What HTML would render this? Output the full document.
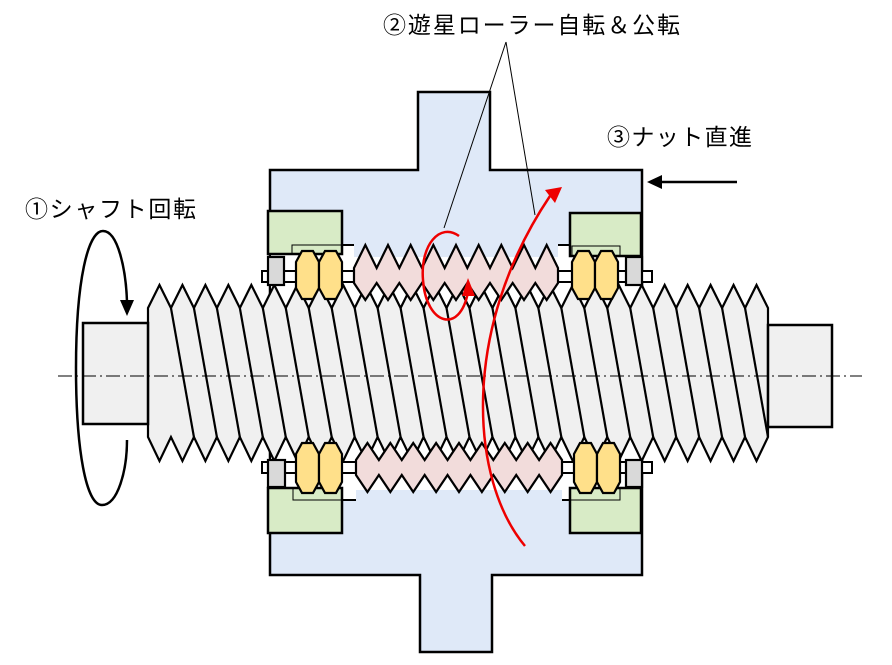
<!DOCTYPE html>
<html><head><meta charset="utf-8"><style>
html,body{margin:0;padding:0;background:#fff}
svg{display:block}
text{font-family:"Liberation Sans","Noto Sans CJK JP",sans-serif;font-size:23px;fill:#000}
</style></head><body>
<svg id="s" width="892" height="665" viewBox="0 0 892 665" xmlns="http://www.w3.org/2000/svg">
<path d="M270,170 H418 V92 H490 V170 H642 V575 H492 V652 H420 V575 H270 Z" fill="#dfe9f8" stroke="#000" stroke-width="2.5"/>
<rect x="271" y="257" width="370" height="233" fill="#fff"/>
<rect x="271" y="245" width="83" height="12" fill="#fff"/>
<rect x="558" y="245" width="83" height="12" fill="#fff"/>
<rect x="271" y="489" width="85" height="11" fill="#fff"/>
<rect x="562" y="489" width="79" height="11" fill="#fff"/>
<line x1="342" y1="245" x2="354" y2="245" stroke="#000" stroke-width="2"/>
<line x1="558" y1="245" x2="570" y2="245" stroke="#000" stroke-width="2"/>
<line x1="342" y1="500" x2="356" y2="500" stroke="#000" stroke-width="2"/>
<line x1="562" y1="500" x2="570" y2="500" stroke="#000" stroke-width="2"/>
<g id="screw"></g>
<rect x="83" y="323" width="65" height="101" fill="#f0f0f0" stroke="#000" stroke-width="2.5"/>
<rect x="768" y="325" width="64" height="102" fill="#f0f0f0" stroke="#000" stroke-width="2.5"/>
<g id="parts"></g>
<line x1="58" y1="376" x2="862" y2="376" stroke="#000" stroke-width="1" stroke-dasharray="14,4,2,4"/>
<line x1="506" y1="42" x2="444" y2="228" stroke="#000" stroke-width="1"/>
<line x1="506" y1="42" x2="535" y2="215" stroke="#000" stroke-width="1"/>
<path d="M459,236 C440,222 420,245 423,280 C426,325 460,335 468,292" fill="none" stroke="#e00" stroke-width="2.5"/>
<path d="M462,296 L468,278 L475,296 Z" fill="#e00"/>
<path d="M525,546 C470,480 460,330 550,196" fill="none" stroke="#e00" stroke-width="2.5"/>
<path d="M545,190 L562,187 L555,203 Z" fill="#e00"/>
<path d="M127,440 C127,470 118,505 102,505 C86,505 76,450 76,368 C76,280 88,231 103,231 C118,231 126,270 127,302" fill="none" stroke="#000" stroke-width="2.5"/>
<path d="M120,300 L134,300 L127,316 Z" fill="#000"/>
<line x1="737" y1="182" x2="662" y2="182" stroke="#000" stroke-width="2.5"/>
<path d="M662,175 L647,182 L662,189 Z" fill="#000"/>
<text x="383" y="33" textLength="297">②遊星ローラー自転＆公転</text>
<text x="607" y="145" textLength="145">③ナット直進</text>
<text x="25" y="217" textLength="171">①シャフト回転</text>
</svg>
<script>
var NS="http://www.w3.org/2000/svg";
function el(p,t,a){var e=document.createElementNS(NS,t);for(var k in a)e.setAttribute(k,a[k]);p.appendChild(e);return e;}
var sc=document.getElementById('screw');
var x0=148,x1=768,n=27,p=(x1-x0)/n;
var d="M"+x0+",308";
for(var k=0;k<n;k++){d+=" L"+(x0+p*k+p/2)+",285 L"+(x0+p*(k+1))+",308";}
d+=" L"+x1+",437";
for(var k=n-1;k>=0;k--){d+=" L"+(x0+p*k+p/2)+",461 L"+(x0+p*k)+",437";}
d+="Z";
el(sc,'path',{d:d,fill:'#f0f0f0',stroke:'#000','stroke-width':2.2});
for(var k=1;k<n;k++){el(sc,'line',{x1:x0+p*k,y1:308,x2:x0+p*(k+1),y2:437,stroke:'#000','stroke-width':2.2});}
var g=document.getElementById('parts');
function roller(xa,xb,ta,tv,bv,ba){
 var q=(xb-xa)/9, s="M"+xa+","+tv;
 for(var i=0;i<9;i++){s+=" L"+(xa+q*i+q/2)+","+ta+" L"+(xa+q*(i+1))+","+tv;}
 s+=" L"+xb+","+bv;
 for(var i=8;i>=0;i--){s+=" L"+(xa+q*i+q/2)+","+ba+" L"+(xa+q*i)+","+bv;}
 s+="Z";
 el(g,'path',{d:s,fill:'#f2dcdb',stroke:'#000','stroke-width':2.2});
}
function yel(x,y,h){
 var w=23;
 for(var i=0;i<2;i++){var a=x+i*w;
  var s="M"+(a+6)+","+y+" L"+(a+w-6)+","+y+" L"+(a+w)+","+(y+11)+" L"+(a+w)+","+(y+h-11)+" L"+(a+w-6)+","+(y+h)+" L"+(a+6)+","+(y+h)+" L"+a+","+(y+h-11)+" L"+a+","+(y+11)+"Z";
  el(g,'path',{d:s,fill:'#ffe08a',stroke:'#000','stroke-width':2.2});}
}
el(g,'rect',{x:262,y:271,width:92,height:11,fill:'#fff',stroke:'#000','stroke-width':2});
el(g,'rect',{x:558,y:271,width:94,height:11,fill:'#fff',stroke:'#000','stroke-width':2});
el(g,'rect',{x:262,y:462,width:94,height:11,fill:'#fff',stroke:'#000','stroke-width':2});
el(g,'rect',{x:562,y:462,width:90,height:11,fill:'#fff',stroke:'#000','stroke-width':2});
roller(354,558,245,268,283,300);
roller(356,562,443,460,475,492);
el(g,'rect',{x:268,y:257,width:16,height:28,fill:'#d9d9d9',stroke:'#000','stroke-width':2.2});
el(g,'rect',{x:626,y:257,width:16,height:28,fill:'#d9d9d9',stroke:'#000','stroke-width':2.2});
el(g,'rect',{x:268,y:460,width:17,height:27,fill:'#d9d9d9',stroke:'#000','stroke-width':2.2});
el(g,'rect',{x:626,y:460,width:16,height:27,fill:'#d9d9d9',stroke:'#000','stroke-width':2.2});
el(g,'rect',{x:268,y:211,width:74,height:43,fill:'#d8ebc6',stroke:'#000','stroke-width':2.5});
el(g,'rect',{x:292,y:245,width:50,height:9,fill:'none',stroke:'#000','stroke-width':1});
el(g,'rect',{x:570,y:213,width:71,height:43,fill:'#d8ebc6',stroke:'#000','stroke-width':2.5});
el(g,'rect',{x:572,y:246,width:48,height:10,fill:'none',stroke:'#000','stroke-width':1});
el(g,'rect',{x:268,y:488,width:74,height:45,fill:'#d8ebc6',stroke:'#000','stroke-width':2.5});
el(g,'rect',{x:293,y:488,width:49,height:12,fill:'none',stroke:'#000','stroke-width':1});
el(g,'rect',{x:570,y:488,width:71,height:45,fill:'#d8ebc6',stroke:'#000','stroke-width':2.5});
el(g,'rect',{x:570,y:488,width:50,height:12,fill:'none',stroke:'#000','stroke-width':1});
yel(296,251,48);yel(572,251,48);yel(296,443,50);yel(574,443,50);
</script>
</body></html>
